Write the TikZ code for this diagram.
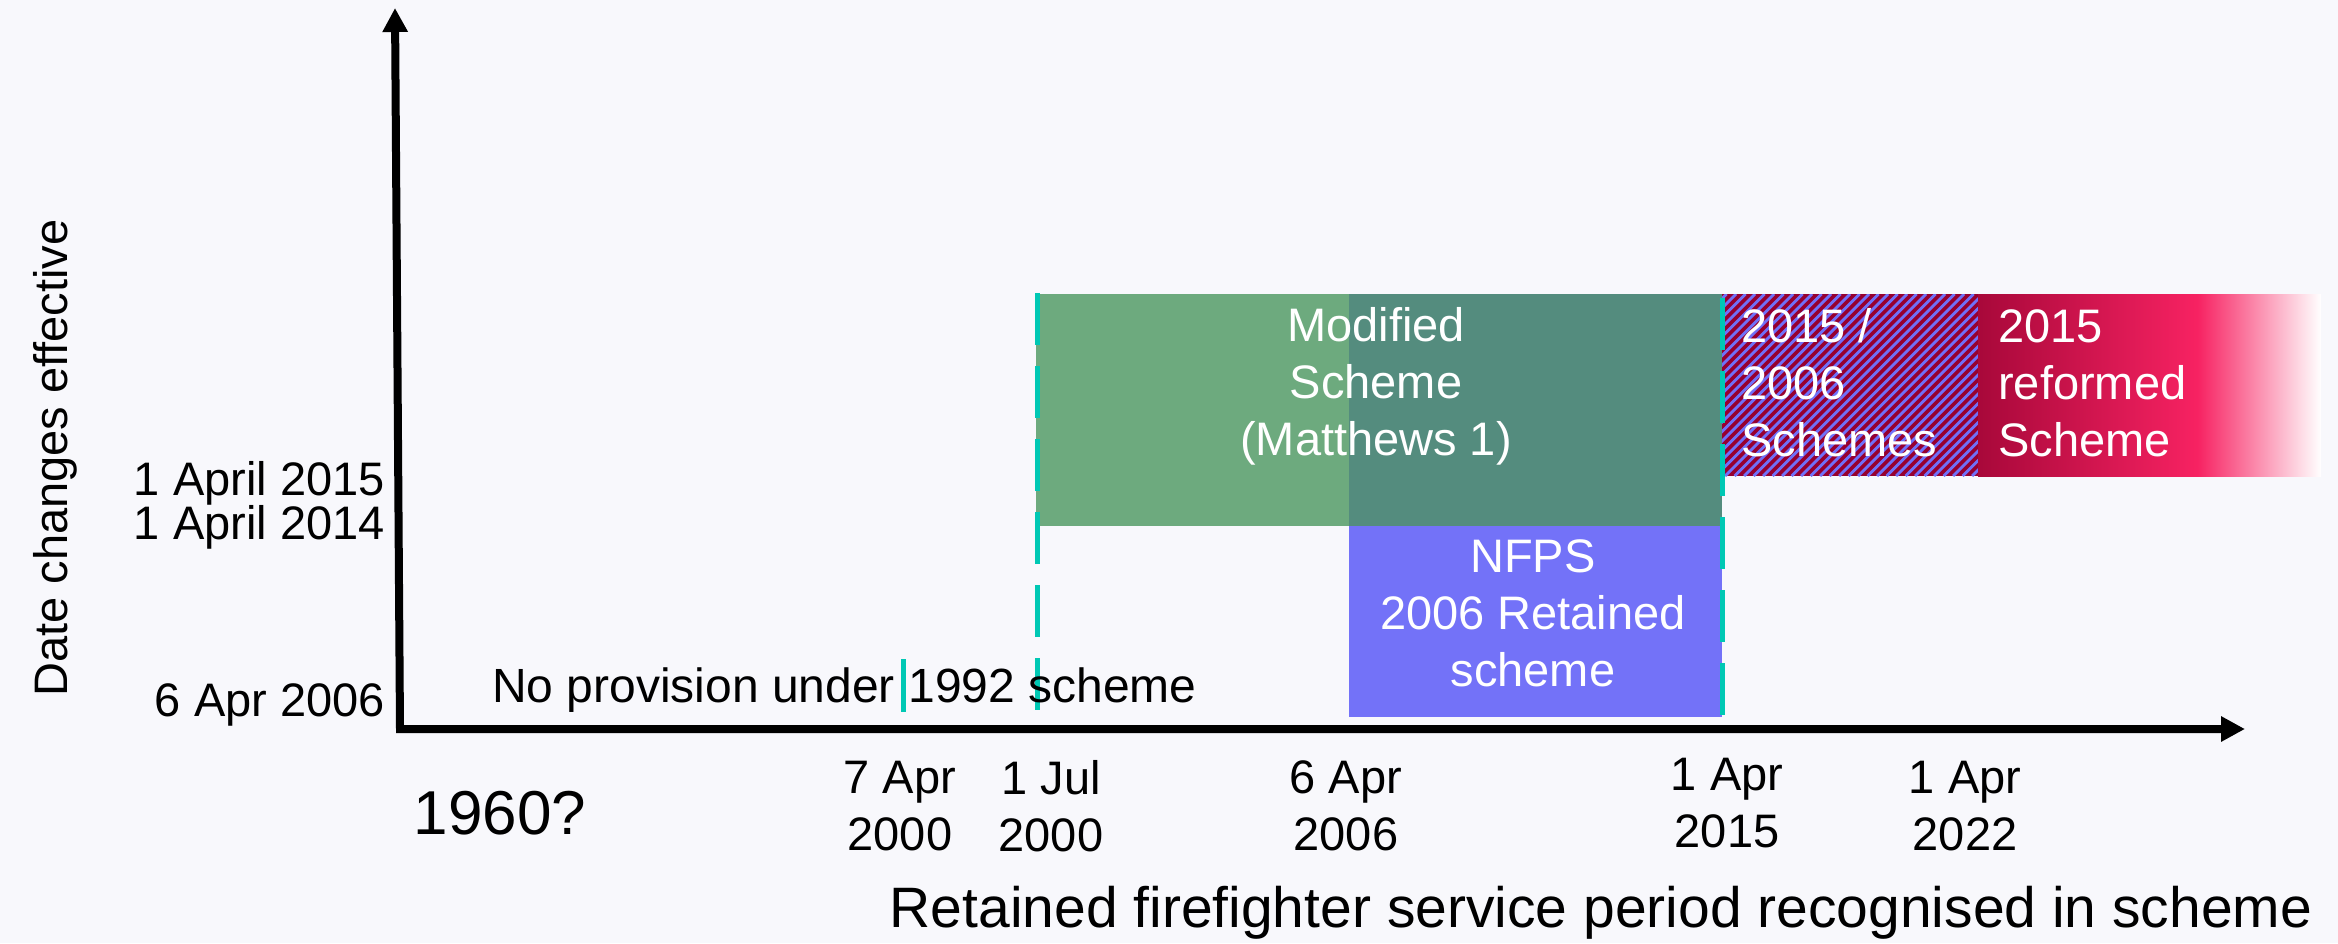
\documentclass[tikz,border=0pt]{standalone}
\usepackage{fontspec}
\setmainfont{Liberation Sans}
\usetikzlibrary{arrows.meta}
\definecolor{bg}{HTML}{F8F8FC}
\definecolor{lgreen}{HTML}{6DAA7E}
\definecolor{dgreen}{HTML}{548C7E}
\definecolor{nblue}{HTML}{7372F8}
\definecolor{tealc}{HTML}{00C8B4}
\definecolor{crim}{HTML}{960030}
\definecolor{stripec}{HTML}{7070F8}
\definecolor{rdark}{HTML}{A8083A}
\definecolor{rbright}{HTML}{F72262}
\pgfdeclarehorizontalshading{reform}{100bp}{color(0bp)=(rdark); color(25bp)=(rdark); color(57bp)=(rbright); color(75bp)=(white); color(100bp)=(white)}
\tikzset{
 lbl/.style={font=\fontsize{47}{57}\selectfont, inner sep=0pt, align=center},
 boxtxt/.style={lbl, text=white},
 tealdash/.style={draw=tealc, line width=5pt, dash pattern=on 52pt off 21pt},
 tealsolid/.style={draw=tealc, line width=5pt},
 axisline/.style={line width=8pt, {Triangle[length=24pt,width=24pt]}-{Triangle[length=24pt,width=24pt]}},
}
\begin{document}
\begin{tikzpicture}[x=1pt,y=-1pt]
\fill[bg] (0,0) rectangle (2338,943);
\useasboundingbox (0,0) rectangle (2338,943);
% boxes
\fill[nblue] (1349,526) rectangle (1722,717);
\fill[lgreen] (1036,294) rectangle (1349,526);
\fill[dgreen] (1349,294) rectangle (1722,526);
\begin{scope}
 \clip (1722,294) rectangle (1978,476);
 \fill[crim] (1722,294) rectangle (1978,476);
 \foreach \i in {0,...,48} \draw[stripec, line width=2.8pt] (1535+\i*9.5,476) -- ++(182,-182);
\end{scope}
\shade[shading=reform] (1978,294) rectangle (2321,476);
% teal markers
\coordinate (t1a) at (1037,293); \coordinate (t1b) at (1037,716);
\coordinate (t2a) at (1722,298); \coordinate (t2b) at (1722,720);
\coordinate (t3a) at (903,659); \coordinate (t3b) at (903,712);
\draw[tealdash] (t1a) -- (t1b);
\draw[tealdash] (t2a) -- (t2b);
\draw[tealsolid] (t3a) -- (t3b);
% axes
\coordinate (ytip) at (395,8);
\coordinate (orig) at (400,729);
\coordinate (xtip) at (2245,729);
\draw[axisline] (ytip) -- (orig) -- (xtip);
% box texts
\node[boxtxt] (mod) at (1376,386) {Modified\\Scheme\\(Matthews 1)};
\node[boxtxt] (nfps) at (1533,613) {NFPS\\2006 Retained\\scheme};
\node[boxtxt, align=left, anchor=west] (hatch) at (1741,383) {2015 /\\2006\\Schemes};
\node[boxtxt, align=left, anchor=west] (ref) at (1998,383) {2015\\reformed\\Scheme};
% axis labels
\node[lbl, anchor=east] (y15) at (385,483) {1 April 2015};
\node[lbl, anchor=east] (y14) at (385,527) {1 April 2014};
\node[lbl, anchor=east] (y06) at (385,705) {6 Apr 2006};
\node[lbl, anchor=west, font=\fontsize{48}{57}\selectfont] (nop) at (492,690) {No provision under 1992 scheme};
\node[font=\fontsize{62}{70}\selectfont, inner sep=0pt] (q) at (500,813) {1960?};
\node[lbl] (d1) at (900,806) {7 Apr\\2000};
\node[lbl] (d2) at (1051,806) {1 Jul\\2000};
\node[lbl] (d3) at (1346,806) {6 Apr\\2006};
\node[lbl] (d4) at (1727,803) {1 Apr\\2015};
\node[lbl] (d5) at (1965,806) {1 Apr\\2022};
\node[lbl, font=\fontsize{57}{66}\selectfont] (xl) at (1601,913) {Retained firefighter service period recognised in scheme};
\node[lbl, rotate=90] (yl) at (55,458) {Date changes effective};
\end{tikzpicture}
\end{document}
